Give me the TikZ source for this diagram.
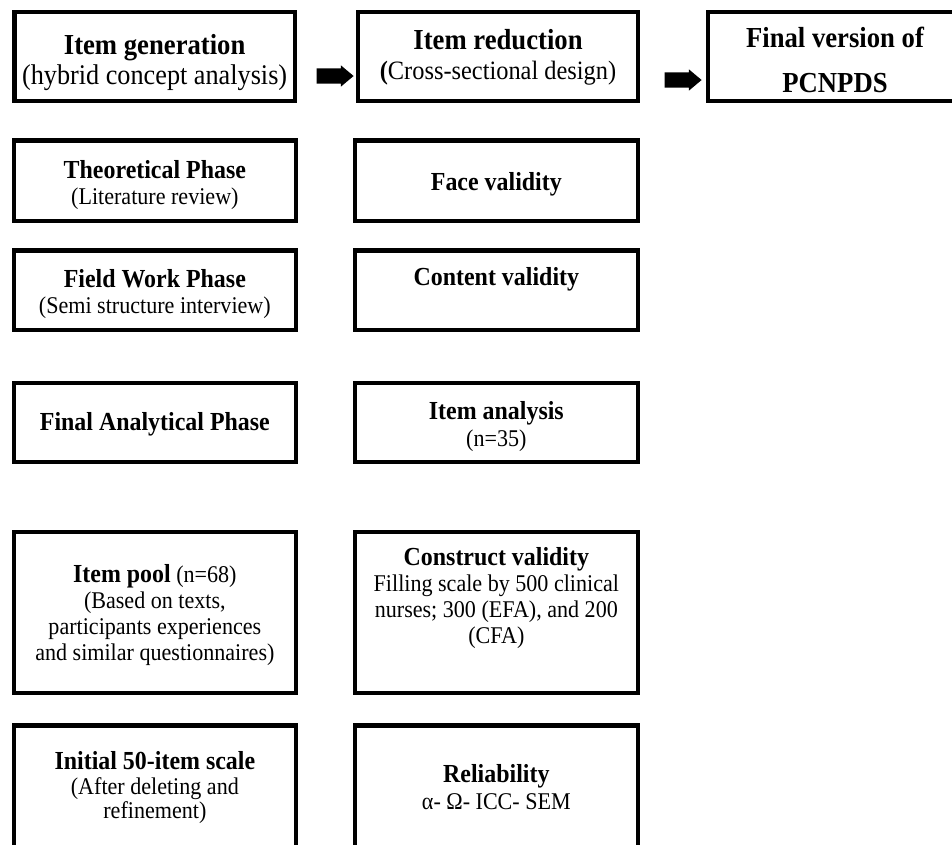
\documentclass[tikz,border=0pt]{standalone}
\usepackage{fontspec}
\setmainfont{Liberation Serif}[FakeStretch=0.92]
\usetikzlibrary{shapes.arrows}
\begin{document}
\begin{tikzpicture}[x=1pt,y=-1pt,
  box/.style={draw=black, line width=4.2pt, inner sep=0pt, minimum width=282.1pt, minimum height=79.8pt},
  rbox/.style={box, minimum width=283.1pt},
  txt/.style={align=center, inner sep=0pt, font=\fontsize{24}{26}\selectfont},
  toptxt/.style={align=center, inner sep=0pt},
  blockarrow/.style={single arrow, fill=black, draw=none, inner sep=0pt, minimum height=37pt, single arrow head extend=3pt, single arrow tip angle=80}
]
\useasboundingbox (0,0) rectangle (952,844);
\fill[white] (0,0) rectangle (952,844);
\clip (0,0) rectangle (952,844);

% top row
\node[box, minimum width=280.5pt, minimum height=88.5pt] (b1) at (154.65,56.35) {};
\node[box, minimum width=279.8pt, minimum height=88.5pt] (b2) at (498,56.35) {};
\node[box, minimum width=254pt, minimum height=88.8pt] (b3) at (835,56.5) {};
\node[toptxt, font=\fontsize{28.5}{30}\selectfont] (t1) at ([yshift=-6pt]b1.center) {{\fontsize{29}{30}\selectfont\bfseries Item generation}\\(hybrid concept analysis)};
\node[toptxt, font=\fontsize{26.5}{30}\selectfont] (t2) at ([yshift=-1pt]b2.center) {{\fontsize{29}{30}\selectfont\bfseries Item reduction}\\{\bfseries(}Cross-sectional design)};
\node[toptxt, font=\fontsize{29}{45}\selectfont\bfseries] (t3) at ([yshift=-3.75pt]b3.center) {Final version of\\PCNPDS};
\node[blockarrow] (a1) at (330.5,76) {\rule[-7.5pt]{0pt}{15pt}};
\node[blockarrow] (a2) at (678.5,80) {\rule[-7.5pt]{0pt}{15pt}};

% left column
\node[box, minimum height=80.2pt] (l2) at (154.85,180.5) {};
\node[box] (l3) at (154.85,290.3) {};
\node[box, minimum height=79.4pt] (l4) at (154.85,422.5) {};
\node[box, minimum height=161.1pt] (l5) at (154.85,612.35) {};
\node[box, minimum height=161.1pt] (l6) at (154.85,806) {};
% right column
\node[rbox, minimum height=80.2pt] (r2) at (496.35,180.5) {};
\node[rbox] (r3) at (496.35,290.3) {};
\node[rbox, minimum height=79.4pt] (r4) at (496.35,422.5) {};
\node[rbox, minimum height=161.1pt] (r5) at (496.35,612.35) {};
\node[rbox, minimum height=161.1pt] (r6) at (496.35,806) {};

% texts left
\node[txt] (tl2) at ([yshift=-5pt]l2.center) {{\fontsize{26}{26}\selectfont\bfseries Theoretical Phase}\\(Literature review)};
\node[txt] (tl3) at ([yshift=-3.5pt]l3.center) {{\fontsize{26}{26}\selectfont\bfseries Field Work Phase}\\(Semi structure interview)};
\node[txt, font=\fontsize{26}{28}\selectfont\bfseries] (tl4) at ([yshift=-1.5pt]l4.center) {Final Analytical Phase};
\node[txt, font=\fontsize{24}{26}\selectfont] (tl5) at ([yshift=-3pt]l5.center) {{\fontsize{26}{26}\selectfont\bfseries Item pool} (n=68)\\(Based on texts,\\participants experiences\\and similar questionnaires)};
\node[txt, font=\fontsize{24}{24.5}\selectfont] (tl6) at ([yshift=18pt]l6.center) {{\fontsize{26}{24.5}\selectfont\bfseries Initial 50-item scale}\\(After deleting and\\refinement)};
% texts right
\node[txt, font=\fontsize{26}{28}\selectfont\bfseries] (tr2) at ([yshift=-4pt]r2.center) {Face validity};
\node[txt, font=\fontsize{26}{28}\selectfont\bfseries] (tr3) at ([yshift=11pt]r3.center) {Content validity};
\node[txt, font=\fontsize{24}{27}\selectfont] (tr4) at ([yshift=-4pt]r4.center) {{\fontsize{26}{27}\selectfont\bfseries Item analysis}\\(n=35)};
\node[txt, font=\fontsize{24}{26}\selectfont] (tr5) at ([yshift=14.5pt]r5.center) {{\fontsize{26}{26}\selectfont\bfseries Construct validity}\\Filling scale by 500 clinical\\nurses; 300 (EFA), and 200\\(CFA)};
\node[txt, font=\fontsize{24}{27.5}\selectfont] (tr6) at ([yshift=19pt]r6.center) {{\fontsize{26}{27.5}\selectfont\bfseries Reliability}\\α- Ω- ICC- SEM};
\end{tikzpicture}
\end{document}
